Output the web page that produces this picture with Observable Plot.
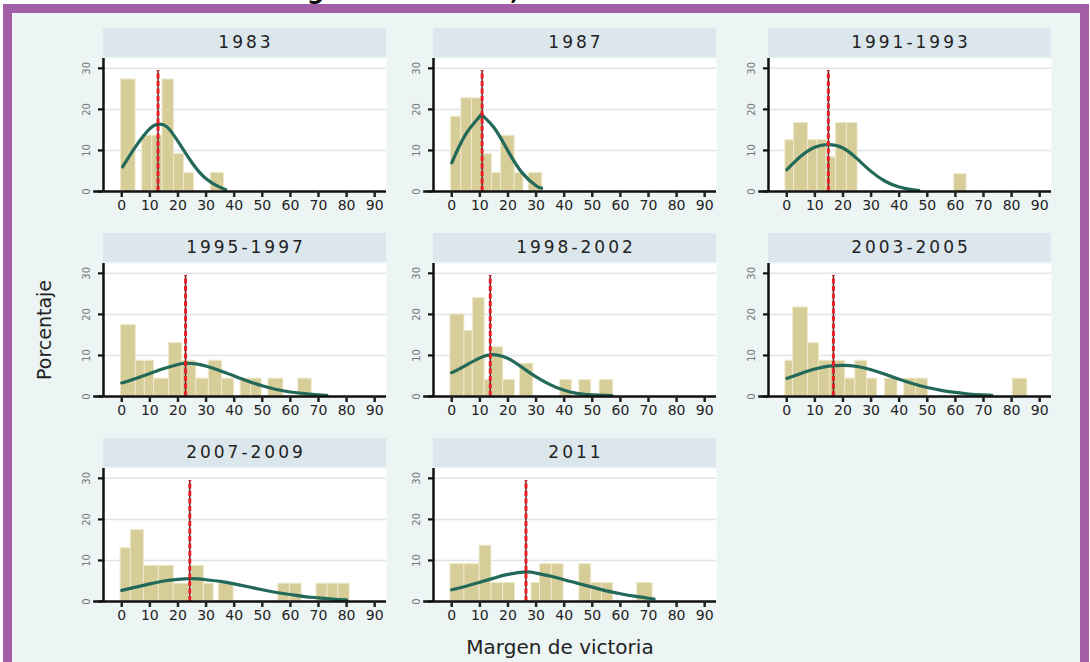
<!DOCTYPE html>
<html><head><meta charset="utf-8">
<script src="https://cdn.jsdelivr.net/npm/d3@7"></script>
<script src="https://cdn.jsdelivr.net/npm/@observablehq/plot@0.6"></script>
<style>
body{margin:0;width:1090px;height:662px;overflow:hidden;background:#fff;position:relative;font-family:"DejaVu Sans",sans-serif;}
#title{position:absolute;left:255px;top:-21px;font:bold 24px "DejaVu Sans";line-height:24px;color:#111;white-space:nowrap;}
#frame{position:absolute;left:3px;top:4px;width:1086px;height:680px;box-sizing:border-box;border:9px solid #a25fa6;border-bottom:none;background:#ecf4f4;}
.strip{position:absolute;height:29px;background:#dce7ed;color:#222;font-size:17px;letter-spacing:3px;text-align:center;line-height:29px;padding-left:3px;box-sizing:border-box;}
.panel{position:absolute;}
#ylab{position:absolute;left:44px;top:330px;transform:translate(-50%,-50%) rotate(-90deg);font-size:19px;color:#222;white-space:nowrap;}
#xlab{position:absolute;left:560px;top:647px;transform:translate(-50%,-50%);font-size:20px;color:#222;white-space:nowrap;}
</style></head><body>
<div id="title">Margen de victoria,</div>
<div id="frame"></div>
<div id="ylab">Porcentaje</div>
<div id="xlab">Margen de victoria</div>
<script>
// ---- data ----
const panelNames = ["1983","1987","1991-1993","1995-1997","1998-2002","2003-2005","2007-2009","2011"];
const meanMargins = [12.9, 10.8, 14.8, 22.7, 13.7, 16.6, 24.2, 26.4];
const xTicks = [0,10,20,30,40,50,60,70,80,90];
const yTicks = [0,10,20,30];

// bars: [from, to, percent]
const bars1983 = [[-0.3,4.9,27.3],[7.3,10.9,13.6],[10.9,14.5,13.6],[14.5,18.6,27.3],[18.6,22.2,9.1],[22.2,25.7,4.5],[31.7,36.4,4.5]];
const bars1987 = [[-0.3,3.4,18.2],[3.4,7.2,22.7],[7.2,10.9,22.7],[10.9,14.3,9.1],[14.3,17.6,4.5],[17.6,22.4,13.6],[22.4,25.5,4.5],[27.4,32.2,4.5]];
const bars1991 = [[-0.5,2.6,12.5],[2.6,7.6,16.7],[7.6,10.9,12.5],[10.9,14.2,12.5],[14.2,17.5,8.3],[17.5,21.4,16.7],[21.4,25.2,16.7],[59.6,64.0,4.2]];
const bars1995 = [[-0.3,5.0,17.4],[5.0,8.2,8.7],[8.2,11.5,8.7],[11.5,16.8,4.35],[16.8,21.5,13.0],[21.5,26.5,8.7],[26.5,31.0,4.35],[31.0,35.7,8.7],[35.7,40.0,4.35],[42.3,46.0,4.35],[46.0,49.8,4.35],[52.2,57.5,4.35],[62.8,67.6,4.35]];
const bars1998 = [[-0.5,4.5,20],[4.5,7.5,16],[7.5,11.7,24],[11.7,14.1,4],[14.1,18.3,12],[18.3,22.5,4],[24.3,29.0,8],[38.6,42.8,4],[45.4,49.6,4],[52.6,57.4,4]];
const bars2003 = [[-0.5,2.2,8.7],[2.2,7.6,21.7],[7.6,11.5,13.0],[11.5,15.4,8.7],[15.4,20.8,8.7],[20.8,24.4,4.35],[24.4,28.6,8.7],[28.6,32.2,4.35],[35.0,39.4,4.35],[41.8,46.0,4.35],[46.0,50.2,4.35],[80.4,85.6,4.35]];
const bars2007 = [[-0.4,3.2,13.0],[3.2,7.9,17.4],[7.9,13.2,8.7],[13.2,18.5,8.7],[18.5,23.9,4.35],[25.0,29.2,8.7],[29.2,32.7,4.35],[34.5,39.8,4.35],[55.7,59.8,4.35],[59.8,64.0,4.35],[69.3,73.2,4.35],[73.2,77.1,4.35],[77.1,81.1,4.35]];
const bars2011 = [[-0.5,4.5,9.1],[4.5,9.9,9.1],[9.9,14.1,13.6],[14.1,18.3,4.5],[18.3,22.5,4.5],[28.4,31.4,4.5],[31.4,35.6,9.1],[35.6,39.8,9.1],[45.4,49.6,9.1],[49.6,53.5,4.5],[53.5,57.4,4.5],[66.0,71.5,4.5]];

// normal curves: [x, percent]
const curve1983 = [[0.3,6.0],[5,11.0],[10,15.3],[13,16.4],[16,15.8],[20,12.2],[25,7.0],[30,3.1],[35,1.0],[37,0.5]];
const curve1987 = [[0,7.0],[5,14.0],[10,18.3],[11,18.5],[15,15.6],[20,9.9],[25,4.6],[30,1.4],[32,0.8]];
const curve1991 = [[0,5.3],[5,8.6],[10,10.8],[15,11.4],[20,10.6],[25,8.0],[30,4.9],[35,2.5],[40,1.1],[45,0.4],[47,0.3]];
const curve1995 = [[0,3.3],[5,4.4],[10,5.6],[15,6.8],[20,7.8],[23,8.1],[27,7.9],[30,7.4],[35,6.3],[40,5.0],[45,3.7],[50,2.6],[55,1.7],[60,1.1],[65,0.7],[70,0.4],[73,0.3]];
const curve1998 = [[0,5.8],[5,7.6],[10,9.4],[14,10.2],[18,9.8],[22,8.5],[26,6.6],[30,4.8],[35,2.9],[40,1.5],[45,0.7],[50,0.4],[57,0.2]];
const curve2003 = [[0,4.4],[5,5.6],[10,6.7],[15,7.4],[20,7.6],[25,7.3],[30,6.5],[35,5.4],[40,4.2],[45,3.1],[50,2.2],[55,1.5],[60,1.0],[65,0.6],[70,0.4],[73,0.3]];
const curve2007 = [[0,2.7],[5,3.5],[10,4.3],[15,5.0],[20,5.4],[25,5.55],[30,5.3],[35,4.9],[40,4.3],[45,3.6],[50,2.85],[55,2.2],[60,1.7],[65,1.2],[70,0.9],[75,0.6],[80,0.4]];
const curve2011 = [[0,2.85],[5,3.7],[10,4.7],[15,5.7],[20,6.6],[26.5,7.2],[30,6.9],[35,6.2],[40,5.3],[45,4.4],[50,3.5],[55,2.6],[60,1.9],[65,1.3],[70,0.8],[72,0.6]];

const barSets = [bars1983, bars1987, bars1991, bars1995, bars1998, bars2003, bars2007, bars2011];
const curveSets = [curve1983, curve1987, curve1991, curve1995, curve1998, curve2003, curve2007, curve2011];

// ---- layout ----
const colX = [103, 433, 768];
const rowY = [28, 233, 438];
const frameW = 283, frameH = 133, mL = 30, mR = 10, mB = 30;
const xDom = [-6.5, 94.2], yDom = [0, 32.4];

panelNames.forEach((name, i) => {
  const col = i % 3, row = Math.floor(i / 3);
  const strip = document.createElement("div");
  strip.className = "strip";
  strip.style.left = colX[col] + "px";
  strip.style.top = rowY[row] + "px";
  strip.style.width = frameW + "px";
  strip.textContent = name;
  document.body.appendChild(strip);

  const barData = barSets[i].map(([x1, x2, pct]) => ({x1, x2, pct}));
  const curveData = curveSets[i].map(([x, y]) => ({x, y}));
  const chart = Plot.plot({
    width: mL + frameW + mR, height: frameH + mB,
    marginLeft: mL, marginRight: mR, marginTop: 0, marginBottom: mB,
    x: {domain: xDom, label: null},
    y: {domain: yDom, label: null},
    style: {background: "transparent", overflow: "visible", fontFamily: "DejaVu Sans"},
    marks: [
      Plot.frame({fill: "white", stroke: "none"}),
      Plot.gridY(yTicks.filter(d => d > 0), {stroke: "#dfe5e7", strokeOpacity: 1, strokeWidth: 1.5}),
      Plot.rectY(barData, {x1: "x1", x2: "x2", y: "pct", fill: "#d6cd98", stroke: "#efe9cc", strokeWidth: 1}),
      Plot.line(curveData, {x: "x", y: "y", curve: "natural", stroke: "#22695a", strokeWidth: 3.2}),
      Plot.ruleX([meanMargins[i]], {y1: 0, y2: 29.5, stroke: "#4a2a25", strokeWidth: 1.5}),
      Plot.ruleX([meanMargins[i]], {y1: 0, y2: 29.5, stroke: "#ea2027", strokeWidth: 3, strokeDasharray: "5,2.5"}),
      Plot.ruleX([xDom[0]], {stroke: "#111", strokeWidth: 2.5}),
      Plot.ruleY([0], {x1: -10, x2: xDom[1], stroke: "#111", strokeWidth: 2.5}),
      Plot.axisY(yTicks, {tickSize: 5, tickFormat: () => "", stroke: "#111", strokeWidth: 2.2, label: null}),
      Plot.text(yTicks, {x: xDom[0], y: d => d, text: d => String(d), rotate: -90, dx: -17, fontSize: 10, fill: "#777"}),
      Plot.axisX(xTicks, {tickSize: 6, tickPadding: 3, fontSize: 14, color: "#222", strokeWidth: 2.5, label: null})
    ]
  });
  const wrap = document.createElement("div");
  wrap.className = "panel";
  wrap.style.left = (colX[col] - mL) + "px";
  wrap.style.top = (rowY[row] + 30) + "px";
  wrap.appendChild(chart);
  document.body.appendChild(wrap);
});
</script>
</body></html>
